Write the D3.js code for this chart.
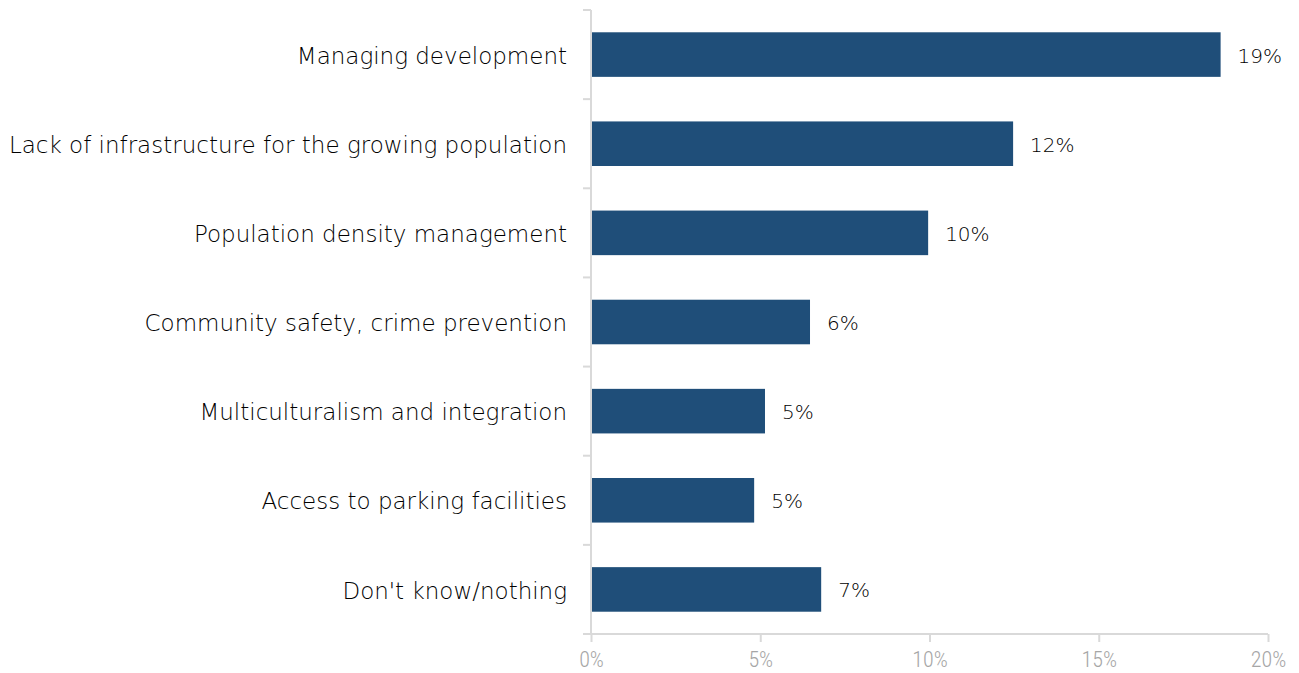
<!DOCTYPE html>
<html>
<head>
<meta charset="utf-8">
<script src="https://cdn.jsdelivr.net/npm/d3@7"></script>
<style>
  body { margin: 0; background: #fff; }
  svg { display: block; }
</style>
</head>
<body>
<svg id="chart" width="1299" height="673"></svg>
<script>
// Survey responses: most important issue
const categories = [
  "Managing development",
  "Lack of infrastructure for the growing population",
  "Population density management",
  "Community safety, crime prevention",
  "Multiculturalism and integration",
  "Access to parking facilities",
  "Don't know/nothing"
];
const values = [0.186, 0.1247, 0.0996, 0.0647, 0.0514, 0.0482, 0.068];
const xTicks = [0, 0.05, 0.10, 0.15, 0.20];

const svg = d3.select("#chart");
const margin = { top: 10, right: 31, bottom: 39, left: 591 };
const width = 1299 - margin.left - margin.right;
const height = 673 - margin.top - margin.bottom;

const g = svg.append("g").attr("transform", `translate(${margin.left},${margin.top})`);

const x = d3.scaleLinear().domain([0, 0.20]).range([0, width]);
const y = d3.scaleBand().domain(categories).range([0, height]).paddingInner(0.5).paddingOuter(0.25);

const axisColor = "#d9d9d9";
const labelFont = "'DejaVu Sans', sans-serif";

// Horizontal axis with tick marks below
const xAxis = g.append("g")
  .attr("transform", `translate(0,${height})`)
  .call(d3.axisBottom(x).tickValues(xTicks).tickFormat(d3.format(".0%")).tickSize(8).tickPadding(9));
xAxis.select(".domain").attr("stroke", axisColor).attr("stroke-width", 2)
  .attr("d", `M-8,0H${width}`);
xAxis.selectAll(".tick line").attr("stroke", axisColor).attr("stroke-width", 2);
xAxis.selectAll(".tick text")
  .attr("fill", "#a6a6a6")
  .style("font-family", "'Roboto Condensed', sans-serif")
  .style("font-weight", 300)
  .style("font-size", "22px");

// Vertical axis line with boundary ticks between categories
const yStep = y.step();
const boundaries = d3.range(categories.length + 1).map(i => i * yStep);
g.append("line")
  .attr("x1", 0).attr("x2", 0).attr("y1", 0).attr("y2", height)
  .attr("stroke", axisColor).attr("stroke-width", 2);
g.selectAll(".ybound")
  .data(boundaries)
  .join("line")
  .attr("class", "ybound")
  .attr("x1", -8).attr("x2", 0)
  .attr("y1", d => d).attr("y2", d => d)
  .attr("stroke", axisColor).attr("stroke-width", 2);

// Category labels
g.selectAll(".cat")
  .data(categories)
  .join("text")
  .attr("class", "cat")
  .attr("x", -24)
  .attr("y", d => y(d) + y.bandwidth() / 2)
  .attr("dy", "0.4em")
  .attr("text-anchor", "end")
  .attr("fill", "#000")
  .style("font-family", labelFont)
  .style("font-weight", 200)
  .style("font-size", "23px")
  .text(d => d);

const data = categories.map((c, i) => ({ c, v: values[i] }));

// Bars
g.selectAll(".bar")
  .data(data)
  .join("rect")
  .attr("class", "bar")
  .attr("x", x(0) + 1)
  .attr("y", d => y(d.c))
  .attr("width", d => x(d.v) - x(0) - 1)
  .attr("height", y.bandwidth())
  .attr("fill", "#1f4e79");

// Value labels
g.selectAll(".val")
  .data(data)
  .join("text")
  .attr("class", "val")
  .attr("x", d => x(d.v) + 17)
  .attr("y", d => y(d.c) + y.bandwidth() / 2)
  .attr("dy", "0.4em")
  .attr("fill", "#000")
  .style("font-family", labelFont)
  .style("font-weight", 200)
  .style("font-size", "20px")
  .text(d => d3.format(".0%")(d.v));
</script>
</body>
</html>
